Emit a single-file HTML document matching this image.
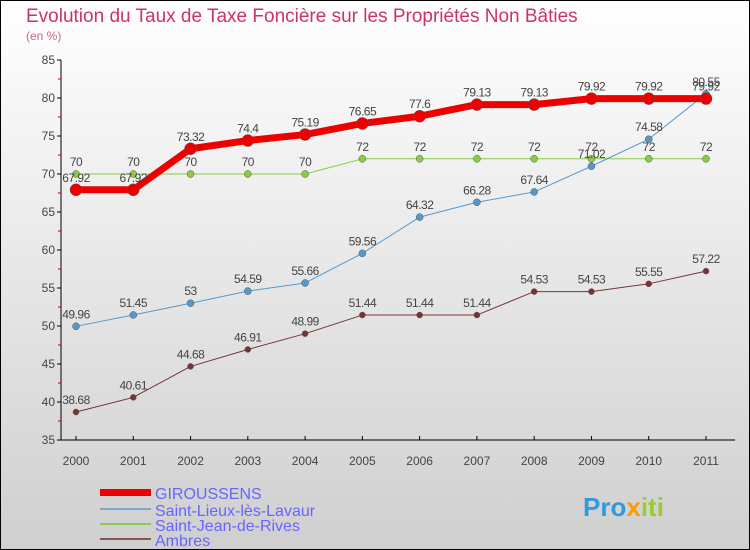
<!DOCTYPE html>
<html><head><meta charset="utf-8"><style>
body{margin:0}
svg{display:block;font-family:"Liberation Sans",sans-serif}
</style></head><body>
<svg id="c" width="750" height="550">
<defs><linearGradient id="bg" x1="0" y1="0" x2="0" y2="1"><stop offset="0" stop-color="#ffffff"/><stop offset="1" stop-color="#cfcfcf"/></linearGradient></defs>
<rect x="0.5" y="0.5" width="749" height="549" fill="url(#bg)" stroke="#000"/>
<text x="26" y="22" font-size="19" fill="#cc3366">Evolution du Taux de Taxe Foncière sur les Propriétés Non Bâties</text>
<text x="26" y="40" font-size="12" fill="#cc6688">(en %)</text>
<g id="axes"></g><g id="series"></g>
<g>
<rect x="100" y="489" width="51" height="7" fill="#ee0000"/>
<text x="155" y="499" font-size="16" fill="#6666ff">GIROUSSENS</text>
<rect x="100" y="508" width="51" height="2" fill="#77aacc"/>
<text x="155" y="516" font-size="16" fill="#6666ff">Saint-Lieux-lès-Lavaur</text>
<rect x="100" y="523" width="51" height="2" fill="#88cc55"/>
<text x="155" y="531" font-size="16" fill="#6666ff">Saint-Jean-de-Rives</text>
<rect x="100" y="538" width="51" height="2" fill="#885555"/>
<text x="155" y="546" font-size="16" fill="#6666ff">Ambres</text>
</g>
<text x="583" y="516" font-size="26" font-weight="bold" fill="#3399dd">Pro<tspan fill="#ff9900">x</tspan><tspan fill="#99cc33">iti</tspan></text>
</svg>
<script>
const years=[2000,2001,2002,2003,2004,2005,2006,2007,2008,2009,2010,2011];
const giroussens=[67.92,67.92,73.32,74.4,75.19,76.65,77.6,79.13,79.13,79.92,79.92,79.92];
const saintLieux=[49.96,51.45,53,54.59,55.66,59.56,64.32,66.28,67.64,71.02,74.58,80.55];
const saintJean=[70,70,70,70,70,72,72,72,72,72,72,72];
const ambres=[38.68,40.61,44.68,46.91,48.99,51.44,51.44,51.44,54.53,54.53,55.55,57.22];
const yTicks=[35,40,45,50,55,60,65,70,75,80,85];
const NS="http://www.w3.org/2000/svg";
const x=i=>76+i*(630/11);
const y=v=>440-(v-35)*7.6;
function el(t,a,p){const e=document.createElementNS(NS,t);for(const k in a)e.setAttribute(k,a[k]);p.appendChild(e);return e;}
const ax=document.getElementById('axes'),sr=document.getElementById('series');
const ya=el('line',{x1:61,y1:y(85),x2:61,y2:440,stroke:'#000'},ax);


const xa=el('line',{x1:61,y1:440,x2:735,y2:440,stroke:'#000'},ax);


yTicks.forEach((v,i)=>{
 el('line',{x1:57,y1:y(v),x2:61,y2:y(v),stroke:'#000'},ax);
 if(i<yTicks.length-1)el('line',{x1:58,y1:y(v+2.5),x2:61,y2:y(v+2.5),stroke:'#cc0000'},ax);
 const t=el('text',{x:55,y:y(v)+4,'font-size':12,'text-anchor':'end',fill:'#444'},ax);
 t.textContent=v;
 
 
});
years.forEach((yr,i)=>{
 el('line',{x1:x(i),y1:436,x2:x(i),y2:440,stroke:'#000'},ax);
 const t=el('text',{x:x(i),y:465,'font-size':12,'text-anchor':'middle',fill:'#444'},ax);
 t.textContent=yr;
 
 
});
function series(data,color,w,r,name){
 const g=el('g',{},sr);
 
 
 el('polyline',{points:data.map((v,i)=>x(i)+','+y(v)).join(' '),fill:'none',stroke:color,'stroke-width':w,'stroke-linejoin':'round'},g);
 data.forEach((v,i)=>{
  const c=el('circle',{cx:x(i),cy:y(v),r:r,fill:color,stroke:'#555','stroke-width':0.5},g);
  
  
  const t=el('text',{x:x(i),y:y(v)-8,'font-size':12,'text-anchor':'middle',fill:'#444','letter-spacing':'-0.5'},g);
  t.textContent=v;
  
  
 });
}
series(ambres,'#773333',1,3,'ambres');
series(saintJean,'#88cc44',1,3.5,'saint-jean');
series(saintLieux,'#5599cc',1,3.5,'saint-lieux');
series(giroussens,'#ee0000',7,6,'giroussens');
</script>
</body></html>
